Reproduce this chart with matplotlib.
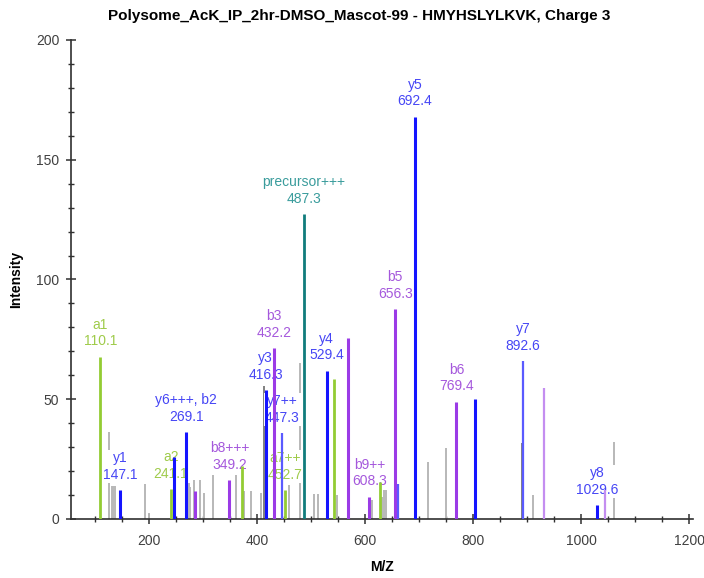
import numpy as np
import matplotlib.pyplot as plt
from matplotlib.ticker import MultipleLocator

plt.rcParams['font.family'] = ['Liberation Sans', 'DejaVu Sans']

title = "Polysome_AcK_IP_2hr-DMSO_Mascot-99 - HMYHSLYLKVK, Charge 3"

# labelled fragment ions
ion_names = ['a1', 'y1', 'a2', 'y6+++, b2', 'b8+++', 'y3', 'b3', 'y7++', 'a7++',
             'precursor+++', 'y4', 'b9++', 'b5', 'y5', 'b6', 'y7', 'y8']
ion_mz = [110.1, 147.1, 241.1, 269.1, 349.2, 416.3, 432.2, 447.3, 452.7,
          487.3, 529.4, 608.3, 656.3, 692.4, 769.4, 892.6, 1029.6]
ion_int = [67.8, 12.1, 12.5, 36.2, 16.3, 53.9, 71.3, 35.8, 12.0,
           127.3, 61.9, 9.3, 87.7, 168.0, 49.0, 66.0, 5.7]
ion_kind = ['green', 'blue', 'green', 'blue', 'purple', 'blue', 'purple', 'lblue', 'green',
            'teal', 'blue', 'purple', 'purple', 'blue', 'purple', 'lblue', 'blue']

# unlabelled peaks
peak_mz = [127, 131, 134, 138, 193.5, 199.6, 246, 249, 273.6, 276.8, 282.9, 284.7,
           294, 301.4, 318.8, 361.9, 371.7, 376.7, 389.6, 408, 412.4, 458.6, 480.3,
           505, 514, 542, 548, 568, 613, 627, 631.5, 636, 639.4, 662, 716, 750,
           804, 891.6, 912, 931.7, 1044.6, 1060.6]
peak_int = [36.2, 13.8, 13.8, 13.8, 14.6, 2.5, 25.8, 14.2, 14.9, 13.4, 16.3, 11.8,
            16.3, 11.0, 18.4, 18.4, 22.0, 11.8, 11.8, 11.0, 55.5, 14.0, 65.0,
            10.5, 10.4, 58.3, 10.0, 75.4, 7.9, 15.6, 9.3, 12.1, 12.0, 14.6, 23.9, 29.5,
            50.0, 31.6, 10.0, 54.6, 12.1, 32.3]
peak_kind = ['gray', 'gray', 'gray', 'gray', 'gray', 'gray', 'blue', 'gray', 'gray', 'gray', 'gray', 'purple',
             'gray', 'gray', 'gray', 'gray', 'green', 'gray', 'gray', 'gray', 'dgray', 'gray', 'gray',
             'gray', 'gray', 'green', 'gray', 'purple', 'gray', 'green', 'gray', 'gray', 'gray', 'lblue', 'gray', 'gray',
             'blue', 'dgray', 'gray', 'lpurple', 'lpurple', 'gray']

line_col = {'gray': '#b8b8b8', 'dgray': '#808080', 'blue': '#1414ff', 'lblue': '#5a5aff',
            'purple': '#9b3be6', 'lpurple': '#c48ef0', 'green': '#93cc33', 'teal': '#117c7c'}
text_col = {'blue': '#4646f5', 'lblue': '#4646f5', 'purple': '#a558dc',
            'green': '#9fcb4a', 'teal': '#3a9c9c'}
line_w = {'gray': 1.4, 'dgray': 1.4, 'blue': 2.2, 'lblue': 1.6, 'purple': 2.2,
          'lpurple': 1.6, 'green': 2.0, 'teal': 2.0}

fig = plt.figure(figsize=(7.04, 5.78), dpi=100)
ax = fig.add_axes([0.1009, 0.1021, 0.884, 0.8287])

for k in ['gray', 'dgray']:
    sel = [i for i, kk in enumerate(peak_kind) if kk == k]
    ax.vlines([peak_mz[i] for i in sel], 0, [peak_int[i] for i in sel],
              colors=line_col[k], lw=line_w[k], zorder=2)

for k in ['blue', 'lblue', 'purple', 'lpurple', 'green']:
    sel = [i for i, kk in enumerate(peak_kind) if kk == k]
    if sel:
        ax.vlines([peak_mz[i] for i in sel], 0, [peak_int[i] for i in sel],
                  colors=line_col[k], lw=line_w[k], zorder=4)

for name, mz, h, k in zip(ion_names, ion_mz, ion_int, ion_kind):
    ax.vlines(mz, 0, h, colors=line_col[k], lw=line_w[k], zorder=4)
    ax.annotate(f"{name}\n{mz:.1f}", xy=(mz, h), xytext=(0, 6), textcoords='offset points',
                ha='center', va='bottom', fontsize=10, color=text_col[k], linespacing=1.25,
                bbox=dict(fc='white', ec='none', pad=1), zorder=3)

ax.set_xlim(56, 1208)
ax.set_ylim(0, 200)
ax.spines['top'].set_visible(False)
ax.spines['right'].set_visible(False)
for s in ['left', 'bottom']:
    ax.spines[s].set_color('#303030')
    ax.spines[s].set_linewidth(1.2)

ax.xaxis.set_major_locator(MultipleLocator(200))
ax.xaxis.set_minor_locator(MultipleLocator(50))
ax.yaxis.set_major_locator(MultipleLocator(50))
ax.yaxis.set_minor_locator(MultipleLocator(10))
ax.tick_params(which='major', direction='inout', length=7, width=1.1, color='#303030',
               labelsize=10, labelcolor='#404040')
ax.tick_params(which='minor', direction='inout', length=4, width=1.0, color='#303030')
ax.tick_params(axis='x', pad=7)
ax.tick_params(axis='y', pad=5)

ax.set_xlabel('M/Z', fontsize=10, fontweight='bold', labelpad=9)
ax.set_ylabel('Intensity', fontsize=10, fontweight='bold', labelpad=9)
fig.suptitle(title, fontsize=11, fontweight='bold', x=0.51, y=0.985)

fig.savefig('out.png', dpi=100)
